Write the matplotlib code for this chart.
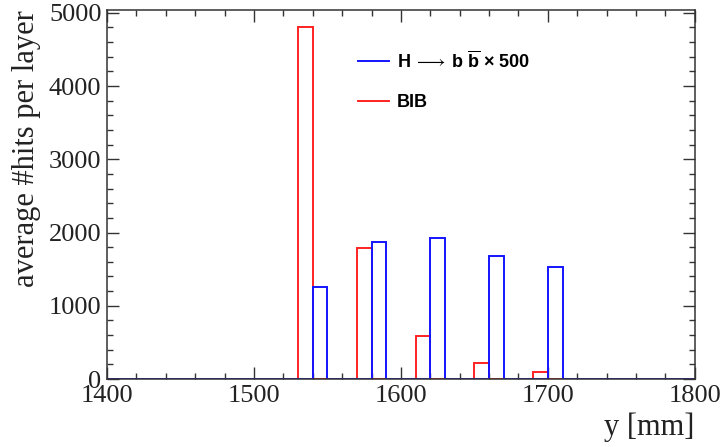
import numpy as np
import matplotlib.pyplot as plt
from matplotlib.lines import Line2D

# bin lower edges (mm) and contents, 10 mm bins
bib_lo = [1530, 1570, 1610, 1650, 1690]
bib_vals = [4800, 1795, 590, 225, 90]
sig_lo = [1540, 1580, 1620, 1660, 1700]
sig_vals = [1260, 1870, 1920, 1675, 1525]

edges = np.arange(1400, 1801, 10)
bin_w = 10

plt.rcParams['mathtext.fontset'] = 'custom'
plt.rcParams['mathtext.rm'] = 'Liberation Sans'
plt.rcParams['mathtext.bf'] = 'Liberation Sans:bold'

fig = plt.figure(figsize=(7.23, 4.47), dpi=100)
ax = fig.add_axes([0.148, 0.152, 0.813, 0.826])

ax.hist(np.array(bib_lo) + bin_w / 2, bins=edges, weights=bib_vals,
        histtype='step', color='#ff2222', lw=1.4)
ax.hist(np.array(sig_lo) + bin_w / 2, bins=edges, weights=sig_vals,
        histtype='step', color='#1414ff', lw=1.4)

ax.set_xlim(1400, 1800)
ax.set_ylim(0, 5040)
ax.set_xticks(np.arange(1400, 1801, 100))
ax.set_xticks(np.arange(1400, 1801, 20), minor=True)
ax.set_yticks(np.arange(0, 5001, 1000))
ax.set_yticks(np.arange(0, 5001, 200), minor=True)

ax.tick_params(which='both', direction='in', top=True, right=True,
               color='#333333', width=1.0)
ax.tick_params(which='major', length=8.5, pad=4)
ax.tick_params(which='minor', length=4.5)
for lab in ax.get_xticklabels() + ax.get_yticklabels():
    lab.set_fontfamily('Liberation Serif')
    lab.set_fontsize(19)
    lab.set_color('#222222')
for sp in ax.spines.values():
    sp.set_color('#333333')
    sp.set_linewidth(1.1)

ax.set_ylabel('average #hits per layer', family='Liberation Serif',
              fontsize=22, loc='top', color='#222222')
ax.yaxis.set_label_coords(-0.112, 1.0)
ax.set_xlabel('y [mm]', family='Liberation Serif', fontsize=22,
              loc='right', color='#222222')
ax.xaxis.set_label_coords(1.0, -0.09)

handles = [Line2D([], [], color='#1414ff', lw=1.4),
           Line2D([], [], color='#ff2222', lw=1.4)]
labels = [r'H$\,\longrightarrow\,$b $\mathbf{\overline{b}}$ × 500', 'BIB']
ax.legend(handles, labels, loc='upper left', bbox_to_anchor=(0.4, 0.935),
          frameon=False, handlelength=1.7, handletextpad=0.45,
          labelspacing=1.25,
          prop={'family': 'Liberation Sans', 'weight': 'bold', 'size': 13})

fig.savefig('out.png', dpi=100)
